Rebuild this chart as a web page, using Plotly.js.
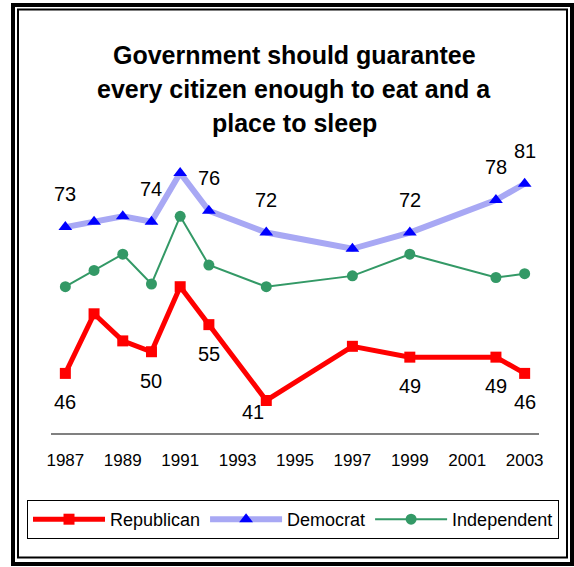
<!DOCTYPE html>
<html><head><meta charset="utf-8">
<script src="https://cdn.plot.ly/plotly-3.0.1.min.js"></script>
<style>html,body{margin:0;padding:0;background:#fff;} #chart{width:574px;height:567px;}</style>
</head><body><div id="chart"></div>
<script>
const years = [1987, 1988, 1989, 1990, 1991, 1992, 1994, 1997, 1999, 2002, 2003];
const republican = [46, 57, 52, 50, 62, 55, 41, 51, 49, 49, 46];
const democrat = [73, 74, 75, 74, 83, 76, 72, 69, 72, 78, 81];
const independent = [62, 65, 68, 62.5, 75, 66, 62, 64, 68, 63.7, 64.4];
const repLabels = ['46', '', '', '50', '', '55', '41', '', '49', '49', '46'];
const demLabels = ['73', '', '', '74', '', '76', '72', '', '72', '78', '81'];
const tickYears = [1987, 1989, 1991, 1993, 1995, 1997, 1999, 2001, 2003];
const tickLabels = ['1987', '1989', '1991', '1993', '1995', '1997', '1999', '2001', '2003'];
const seriesNames = ['Republican', 'Democrat', 'Independent'];
const titleLines = ['Government should guarantee', 'every citizen enough to eat and a', 'place to sleep'];

const FONT = 'Liberation Sans, Arial, Helvetica, sans-serif';
const L = 51, T = 135, W = 488, H = 298, FW = 574, FH = 567;
const fx = px => (px - L) / W;
const fy = py => (T + H - py) / H;

const traces = [
  {x: years, y: republican, name: seriesNames[0], type: 'scatter', mode: 'lines+markers',
   line: {color: '#FF0000', width: 5}, marker: {symbol: 'square', size: 11, color: '#FF0000'}},
  {x: years, y: democrat, name: seriesNames[1], type: 'scatter', mode: 'lines+markers',
   line: {color: '#A8A8F4', width: 6}, marker: {symbol: 'triangle-up', size: 12, color: '#0000FF'}},
  {x: years, y: independent, name: seriesNames[2], type: 'scatter', mode: 'lines+markers',
   line: {color: '#339966', width: 2}, marker: {symbol: 'circle', size: 11, color: '#339966'}}
];

const annotations = [];
const titleY = [55, 89, 123];
titleLines.forEach((t, i) => annotations.push({
  text: '<b>' + t + '</b>', xref: 'paper', yref: 'paper', x: fx(294), y: fy(titleY[i]),
  xanchor: 'center', yanchor: 'middle', showarrow: false, font: {family: FONT, size: 25, color: '#000'}
}));
years.forEach((yr, i) => {
  if (repLabels[i]) {
    const special = republican[i] === Math.min(...republican);
    annotations.push({x: yr, y: republican[i], text: repLabels[i], showarrow: false,
      xanchor: 'center', yanchor: 'middle', xshift: special ? -13 : 0, yshift: special ? -12 : -29,
      font: {family: FONT, size: 20, color: '#000'}});
  }
  if (demLabels[i]) {
    annotations.push({x: yr, y: democrat[i], text: demLabels[i], showarrow: false,
      xanchor: 'center', yanchor: 'middle', yshift: 33,
      font: {family: FONT, size: 20, color: '#000'}});
  }
});

const shapes = [
  {type: 'rect', xref: 'paper', yref: 'paper', x0: fx(13), x1: fx(572), y0: fy(5), y1: fy(564),
   line: {color: '#000', width: 4}},
  {type: 'rect', xref: 'paper', yref: 'paper', x0: fx(18), x1: fx(567), y0: fy(9.5), y1: fy(557.5),
   line: {color: '#000', width: 2}}
];

const layout = {
  width: FW, height: FH,
  margin: {l: L, r: FW - L - W, t: T, b: FH - T - H, pad: 0},
  paper_bgcolor: '#fff', plot_bgcolor: '#fff',
  font: {family: FONT, color: '#000'},
  showlegend: true,
  legend: {orientation: 'h', x: fx(27), y: fy(500), xanchor: 'left', yanchor: 'top',
    bordercolor: '#000', borderwidth: 1, font: {family: FONT, size: 18, color: '#000'},
    itemwidth: 72, bgcolor: '#fff'},
  xaxis: {range: [1986.5, 2003.5], tickvals: tickYears, ticktext: tickLabels, showgrid: false,
    zeroline: false, showline: true, linecolor: '#808080', linewidth: 2, ticks: '',
    ticklabelstandoff: 11, tickfont: {family: FONT, size: 17, color: '#000'}, fixedrange: true},
  yaxis: {range: [35, 90], visible: false, fixedrange: true},
  annotations: annotations,
  shapes: shapes
};

Plotly.newPlot('chart', traces, layout, {staticPlot: true, displayModeBar: false});
</script></body></html>
